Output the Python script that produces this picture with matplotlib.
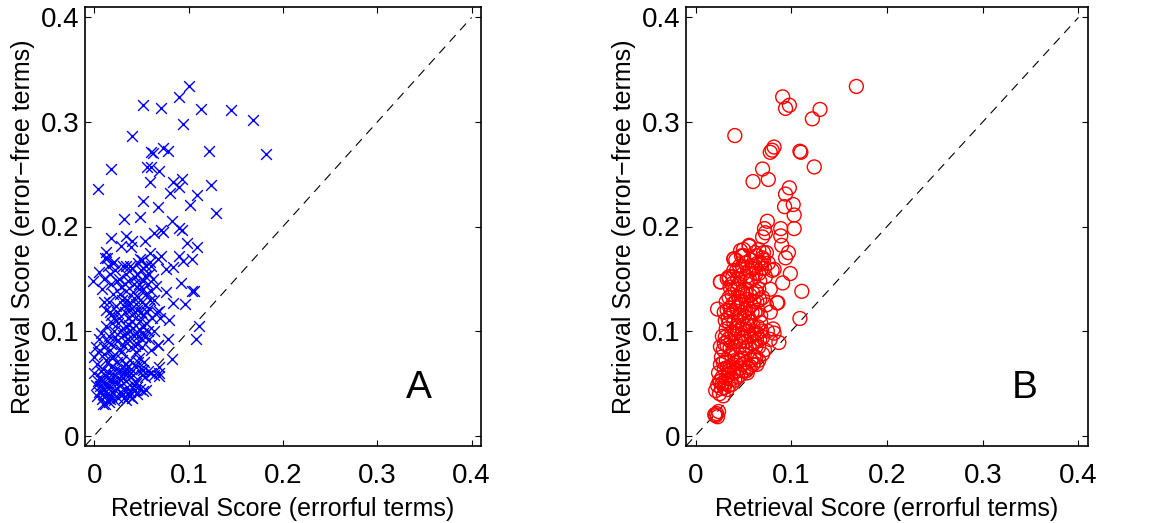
import matplotlib
matplotlib.use("Agg")
import matplotlib.pyplot as plt

plt.rcParams['font.family'] = ['Liberation Sans', 'DejaVu Sans']

# ---- Panel A (x markers, blue): errorful vs error-free retrieval scores ----
errorful_A = [
    # sparse upper points
    0.100, 0.090, 0.051, 0.071, 0.113, 0.145, 0.168, 0.094, 0.040, 0.060, 0.062,
    0.073, 0.078, 0.121, 0.182, 0.018, 0.056, 0.060, 0.069, 0.004, 0.059, 0.093,
    0.090, 0.083, 0.124, 0.080, 0.109, 0.052, 0.101, 0.067, 0.129, 0.031, 0.048,
    0.082, 0.090, 0.093, 0.071, 0.073, 0.063, 0.018, 0.033, 0.040, 0.054, 0.098,
    0.109, 0.012, 0.028, 0.039, 0.059, 0.071, 0.090, 0.103, 0.094, 0.011, 0.021,
    0.034, 0.048, 0.059, 0.067, 0.076, 0.083, -0.002, 0.092, 0.104, 0.076, 0.083,
    0.096, 0.106, 0.068, 0.111, 0.108, 0.079, 0.078, 0.067, 0.082, 0.068, 0.068,
    0.052, 0.055, 0.044, 0.040, 0.036, 0.009,
    # band 0.03-0.05
    0.002, 0.005, 0.008, 0.010, 0.012, 0.013, 0.015, 0.016, 0.018, 0.020, 0.022,
    0.025, 0.028, 0.030, 0.033, 0.035, 0.038, 0.040, 0.042, 0.045, 0.048, 0.052,
    0.008, 0.003, 0.011, 0.014, 0.019, 0.024, 0.006, 0.017,
    0.009, 0.013, 0.027, 0.031, 0.037, 0.043, 0.021,
    # band 0.05-0.08
    0.000, 0.003, 0.006, 0.009, 0.012, 0.015, 0.018, 0.021, 0.024, 0.027, 0.030,
    0.032, 0.035, 0.038, 0.041, 0.044, 0.047, 0.050, 0.053, 0.057, 0.060, 0.063,
    0.068, 0.000, 0.004, 0.010, 0.020, 0.028, 0.033, 0.036,
    0.004, 0.007, 0.011, 0.014, 0.016, 0.019, 0.023, 0.026, 0.029, 0.031, 0.034,
    0.037, 0.039, 0.043, 0.046, 0.049, 0.054,
    # band 0.08-0.11
    0.005, 0.010, 0.015, 0.018, 0.021, 0.024, 0.027, 0.030, 0.033, 0.036, 0.038,
    0.040, 0.042, 0.045, 0.047, 0.050, 0.052, 0.055, 0.058, 0.060, 0.063, 0.067,
    0.012, 0.025, 0.031, 0.044, 0.049, 0.039,
    0.002, 0.007, 0.013, 0.016, 0.019, 0.022, 0.028, 0.032, 0.035, 0.037, 0.041,
    0.043, 0.046, 0.048, 0.051, 0.054, 0.057, 0.061,
    # band 0.11-0.14
    0.008, 0.012, 0.015, 0.018, 0.020, 0.023, 0.026, 0.029, 0.032, 0.034, 0.037,
    0.040, 0.042, 0.045, 0.047, 0.050, 0.052, 0.055, 0.058, 0.060, 0.063, 0.066,
    0.070, 0.024, 0.036, 0.044, 0.054, 0.041,
    0.010, 0.016, 0.021, 0.027, 0.031, 0.035, 0.038, 0.043, 0.046, 0.049, 0.051,
    0.056, 0.059,
    # band 0.14-0.17
    0.005, 0.010, 0.014, 0.018, 0.022, 0.026, 0.030, 0.033, 0.036, 0.040, 0.043,
    0.046, 0.049, 0.052, 0.055, 0.058, 0.062, 0.065, 0.013, 0.028, 0.050, 0.054,
    0.047,
    0.016, 0.020, 0.024, 0.032, 0.038, 0.042, 0.045, 0.051, 0.057, 0.060,
]
errorfree_A = [
    0.334, 0.324, 0.316, 0.313, 0.312, 0.311, 0.302, 0.298, 0.287, 0.271, 0.270,
    0.275, 0.272, 0.272, 0.269, 0.255, 0.257, 0.257, 0.253, 0.236, 0.243, 0.245,
    0.238, 0.243, 0.240, 0.232, 0.230, 0.224, 0.221, 0.219, 0.213, 0.207, 0.209,
    0.205, 0.199, 0.197, 0.197, 0.195, 0.194, 0.189, 0.191, 0.186, 0.186, 0.184,
    0.180, 0.176, 0.181, 0.180, 0.175, 0.172, 0.172, 0.169, 0.167, 0.170, 0.166,
    0.162, 0.169, 0.166, 0.169, 0.159, 0.161, 0.148, 0.146, 0.138, 0.137, 0.127,
    0.126, 0.138, 0.119, 0.105, 0.092, 0.111, 0.092, 0.087, 0.073, 0.066, 0.057,
    0.063, 0.044, 0.050, 0.036, 0.041, 0.030,
    # band 0.03-0.05
    0.048, 0.042, 0.035, 0.045, 0.050, 0.040, 0.032, 0.046, 0.038, 0.052, 0.044,
    0.036, 0.048, 0.040, 0.034, 0.046, 0.042, 0.036, 0.048, 0.040, 0.045, 0.043,
    0.052, 0.038, 0.030, 0.055, 0.042, 0.050, 0.047, 0.035,
    0.040, 0.046, 0.042, 0.036, 0.038, 0.044, 0.034,
    # band 0.05-0.08
    0.060, 0.068, 0.056, 0.064, 0.072, 0.060, 0.066, 0.058, 0.070, 0.062, 0.055,
    0.068, 0.060, 0.072, 0.058, 0.066, 0.074, 0.058, 0.070, 0.062, 0.060, 0.058,
    0.060, 0.075, 0.080, 0.078, 0.076, 0.080, 0.064, 0.067,
    0.052, 0.062, 0.058, 0.070, 0.052, 0.074, 0.064, 0.055, 0.072, 0.060, 0.052,
    0.058, 0.064, 0.052, 0.070, 0.064, 0.056,
    # band 0.08-0.11
    0.092, 0.085, 0.095, 0.088, 0.100, 0.090, 0.083, 0.096, 0.105, 0.092, 0.100,
    0.110, 0.095, 0.088, 0.102, 0.085, 0.098, 0.108, 0.092, 0.082, 0.100, 0.087,
    0.105, 0.108, 0.086, 0.080, 0.093, 0.085,
    0.085, 0.098, 0.090, 0.082, 0.108, 0.094, 0.101, 0.090, 0.098, 0.106, 0.103,
    0.086, 0.095, 0.110, 0.104, 0.094, 0.100, 0.112,
    # band 0.11-0.14
    0.140, 0.120, 0.128, 0.115, 0.135, 0.124, 0.112, 0.130, 0.118, 0.138, 0.125,
    0.115, 0.132, 0.120, 0.140, 0.128, 0.115, 0.135, 0.122, 0.138, 0.130, 0.118,
    0.112, 0.118, 0.112, 0.126, 0.125, 0.137,
    0.128, 0.118, 0.112, 0.135, 0.124, 0.130, 0.120, 0.118, 0.133, 0.118, 0.140,
    0.118, 0.130,
    # band 0.14-0.17
    0.156, 0.150, 0.162, 0.145, 0.158, 0.150, 0.162, 0.155, 0.148, 0.160, 0.152,
    0.165, 0.158, 0.148, 0.162, 0.155, 0.150, 0.143, 0.170, 0.142, 0.168, 0.153,
    0.145,
    0.155, 0.165, 0.148, 0.145, 0.162, 0.145, 0.155, 0.160, 0.145, 0.162,
]

# ---- Panel B (circles, red) ----
errorful_B = [
    # sparse upper points
    0.168, 0.091, 0.098, 0.094, 0.130, 0.122, 0.041, 0.082, 0.078, 0.080, 0.109,
    0.110, 0.124, 0.070, 0.076, 0.060, 0.098, 0.094, 0.093, 0.102, 0.103, 0.103,
    0.075, 0.072, 0.070, 0.073, 0.089, 0.089, 0.090, 0.097, 0.094, 0.099, 0.091,
    0.111, 0.109, 0.086, 0.087, 0.081, 0.026, 0.035, 0.040, 0.056, 0.050, 0.050,
    0.071, 0.082, 0.078,
    # band 0.02-0.05
    0.020, 0.021, 0.022, 0.024, 0.023, 0.021, 0.023, 0.025, 0.027, 0.029, 0.031,
    0.033, 0.035, 0.026, 0.030, 0.038, 0.028,
    # band 0.05-0.08
    0.024, 0.026, 0.028, 0.030, 0.032, 0.034, 0.036, 0.038, 0.040, 0.042, 0.044,
    0.046, 0.048, 0.050, 0.052, 0.055, 0.058, 0.060, 0.063, 0.066, 0.070, 0.027,
    0.033, 0.041, 0.047, 0.054, 0.025, 0.029,
    0.032, 0.035, 0.037, 0.039, 0.043, 0.045, 0.049, 0.051, 0.053, 0.057, 0.061,
    0.064,
    # band 0.08-0.11
    0.026, 0.028, 0.030, 0.032, 0.034, 0.036, 0.038, 0.040, 0.042, 0.044, 0.046,
    0.048, 0.050, 0.052, 0.054, 0.056, 0.058, 0.060, 0.062, 0.064, 0.066, 0.068,
    0.070, 0.072, 0.075, 0.078, 0.082, 0.035, 0.045, 0.057,
    0.029, 0.031, 0.033, 0.037, 0.039, 0.041, 0.043, 0.047, 0.049, 0.051, 0.053,
    0.055, 0.059, 0.061, 0.063, 0.065, 0.067, 0.069,
    # band 0.11-0.14
    0.023, 0.030, 0.032, 0.034, 0.036, 0.038, 0.040, 0.042, 0.044, 0.046, 0.048,
    0.050, 0.052, 0.054, 0.056, 0.058, 0.060, 0.062, 0.064, 0.066, 0.068, 0.070,
    0.074, 0.078, 0.085, 0.045, 0.053,
    0.031, 0.033, 0.035, 0.037, 0.039, 0.041, 0.043, 0.047, 0.049, 0.051, 0.055,
    0.057, 0.059, 0.061, 0.063, 0.065, 0.067,
    # band 0.14-0.18
    0.026, 0.033, 0.035, 0.038, 0.040, 0.042, 0.044, 0.046, 0.048, 0.050, 0.052,
    0.054, 0.056, 0.058, 0.060, 0.062, 0.064, 0.066, 0.068, 0.070, 0.072, 0.074,
    0.076, 0.080, 0.040, 0.047, 0.056, 0.050,
    0.036, 0.039, 0.043, 0.045, 0.049, 0.053, 0.057, 0.059, 0.063, 0.065, 0.067,
    0.069, 0.071, 0.073, 0.062, 0.066,
]
errorfree_B = [
    0.334, 0.324, 0.316, 0.313, 0.312, 0.303, 0.287, 0.276, 0.271, 0.273, 0.272,
    0.271, 0.257, 0.255, 0.245, 0.243, 0.237, 0.231, 0.219, 0.221, 0.211, 0.198,
    0.205, 0.198, 0.190, 0.194, 0.198, 0.191, 0.182, 0.175, 0.170, 0.155, 0.146,
    0.138, 0.112, 0.127, 0.089, 0.102, 0.147, 0.150, 0.169, 0.182, 0.178, 0.172,
    0.175, 0.159, 0.140,
    # band 0.02-0.05
    0.020, 0.019, 0.021, 0.023, 0.018, 0.043, 0.048, 0.040, 0.045, 0.038, 0.050,
    0.044, 0.048, 0.052, 0.046, 0.049, 0.050,
    # band 0.05-0.08
    0.060, 0.068, 0.056, 0.064, 0.072, 0.058, 0.066, 0.076, 0.060, 0.070, 0.056,
    0.064, 0.074, 0.062, 0.070, 0.065, 0.072, 0.068, 0.075, 0.072, 0.078, 0.075,
    0.065, 0.053, 0.058, 0.060, 0.052, 0.070,
    0.055, 0.062, 0.054, 0.068, 0.062, 0.072, 0.068, 0.078, 0.062, 0.066, 0.076,
    0.068,
    # band 0.08-0.11
    0.085, 0.095, 0.088, 0.102, 0.092, 0.084, 0.098, 0.108, 0.090, 0.100, 0.085,
    0.096, 0.106, 0.090, 0.100, 0.086, 0.095, 0.105, 0.090, 0.098, 0.085, 0.108,
    0.094, 0.082, 0.100, 0.092, 0.098, 0.108, 0.110, 0.109,
    0.082, 0.094, 0.086, 0.090, 0.082, 0.098, 0.105, 0.090, 0.102, 0.094, 0.084,
    0.105, 0.088, 0.098, 0.085, 0.104, 0.092, 0.100,
    # band 0.11-0.14
    0.121, 0.118, 0.128, 0.112, 0.122, 0.135, 0.118, 0.128, 0.140, 0.115, 0.125,
    0.135, 0.120, 0.130, 0.112, 0.125, 0.136, 0.118, 0.128, 0.140, 0.115, 0.132,
    0.125, 0.118, 0.127, 0.132, 0.140,
    0.110, 0.120, 0.132, 0.115, 0.126, 0.140, 0.122, 0.128, 0.138, 0.114, 0.122,
    0.134, 0.118, 0.128, 0.138, 0.120, 0.130,
    # band 0.14-0.18
    0.147, 0.150, 0.152, 0.145, 0.158, 0.168, 0.150, 0.162, 0.172, 0.155, 0.165,
    0.148, 0.158, 0.168, 0.150, 0.162, 0.172, 0.155, 0.165, 0.170, 0.160, 0.175,
    0.165, 0.158, 0.169, 0.177, 0.181, 0.172,
    0.142, 0.152, 0.158, 0.145, 0.162, 0.152, 0.148, 0.160, 0.155, 0.165, 0.148,
    0.160, 0.168, 0.152, 0.175, 0.178,
]

tick_values = [0, 0.1, 0.2, 0.3, 0.4]
tick_labels = ['0', '0.1', '0.2', '0.3', '0.4']
panel_letters = ['A', 'B']
xlabel_text = 'Retrieval Score (errorful terms)'
ylabel_text = 'Retrieval Score (error\u2212free terms)'

W, H = 1151, 523
fig = plt.figure(figsize=(W / 100, H / 100), dpi=100)

axA = fig.add_axes([85 / W, (H - 446) / H, 396 / W, 439 / H])
axB = fig.add_axes([686 / W, (H - 446) / H, 402 / W, 439 / H])

axA.scatter(errorful_A, errorfree_A, marker='x', s=60, c='#0000ff',
            linewidths=1.0, zorder=3)
axB.scatter(errorful_B, errorfree_B, marker='o', s=100, facecolors='none',
            edgecolors='#ff0000', linewidths=1.0, zorder=3)

for ax, letter in zip([axA, axB], panel_letters):
    ax.plot([-0.01, 0.4], [-0.01, 0.4], color='black', lw=0.8,
            dashes=(8, 6), zorder=2)
    ax.set_xlim(-0.01, 0.41)
    ax.set_ylim(-0.01, 0.41)
    ax.set_xticks(tick_values)
    ax.set_xticklabels(tick_labels)
    ax.set_yticks(tick_values)
    ax.set_yticklabels(tick_labels)
    ax.tick_params(direction='in', length=4, width=0.8, top=True, right=True,
                   labelsize=20)
    ax.tick_params(axis='x', pad=12)
    ax.tick_params(axis='y', pad=4)
    for sp in ax.spines.values():
        sp.set_linewidth(1.2)
    ax.set_xlabel(xlabel_text, fontsize=18, labelpad=6)
    ax.set_ylabel(ylabel_text, fontsize=18, labelpad=4)
    ax.text(0.344, 0.036, letter, fontsize=28, ha='center', va='baseline')

fig.savefig('out.png', dpi=100)
